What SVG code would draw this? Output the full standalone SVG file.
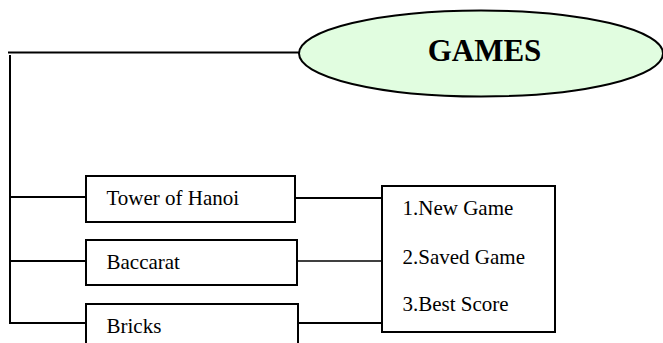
<svg xmlns="http://www.w3.org/2000/svg" width="663" height="343" viewBox="0 0 663 343">
<style>
.ln{stroke:#000;stroke-width:2;fill:none}
.bx{stroke:#000;stroke-width:2;fill:#fff}
.t{font-family:"Liberation Serif","Times New Roman",serif;font-size:21px;fill:#000}
.h{font-family:"Liberation Serif","Times New Roman",serif;font-size:31px;font-weight:bold;fill:#000}
</style>
<rect width="663" height="343" fill="#fff"/>
<g id="connectors">
<line class="ln" x1="8" y1="52.5" x2="300" y2="52.5"/>
<line class="ln" x1="10" y1="55" x2="10" y2="324"/>
<line class="ln" x1="9" y1="197" x2="86" y2="197"/>
<line class="ln" x1="9" y1="261" x2="86" y2="261"/>
<line class="ln" x1="9" y1="323" x2="86" y2="323"/>
<line class="ln" x1="295" y1="198" x2="382" y2="198"/>
<line class="ln" x1="297" y1="261" x2="382" y2="261" style="stroke-width:1.5"/>
<line class="ln" x1="298" y1="323" x2="382" y2="323"/>
</g>
<g id="games">
<ellipse cx="481" cy="53.5" rx="182" ry="43" fill="#e1fde0" stroke="#000" stroke-width="2"/>
<text class="h" x="484.5" y="61" text-anchor="middle">GAMES</text>
</g>
<g id="hanoi">
<rect class="bx" x="86" y="176" width="209" height="46"/>
<text class="t" x="106.5" y="205">Tower of Hanoi</text>
</g>
<g id="baccarat">
<rect class="bx" x="86" y="240" width="211" height="45"/>
<text class="t" x="106.5" y="269">Baccarat</text>
</g>
<g id="bricks">
<rect class="bx" x="86" y="304" width="212" height="50"/>
<text class="t" x="106.5" y="333">Bricks</text>
</g>
<g id="menu">
<rect class="bx" x="382" y="186" width="173" height="146"/>
<text class="t" x="402.5" y="215">1.New Game</text>
<text class="t" x="402.5" y="264">2.Saved Game</text>
<text class="t" x="402.5" y="311">3.Best Score</text>
</g>
</svg>
